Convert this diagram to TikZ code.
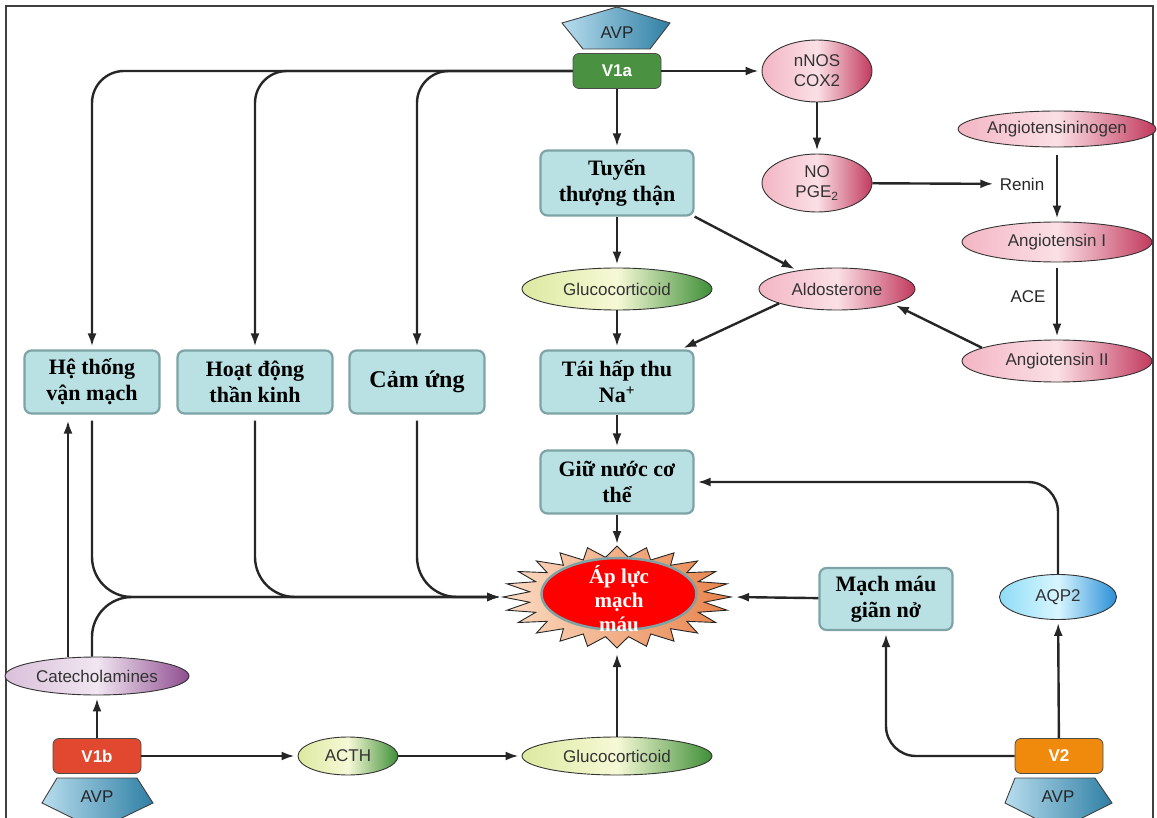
\documentclass[tikz,border=0pt]{standalone}
\usepackage{fontspec}
\setmainfont{Liberation Serif}
\setsansfont{Liberation Sans}
\usepackage{tikz}
\usetikzlibrary{shapes.geometric, arrows.meta, positioning, calc}

\definecolor{boxFill}{HTML}{B9E0E3}
\definecolor{boxLine}{HTML}{7DA3A6}
\definecolor{pinkL}{HTML}{FBE0E6}
\definecolor{pinkM}{HTML}{F3B5C4}
\definecolor{pinkD}{HTML}{C23A5E}
\definecolor{limeL}{HTML}{F6F9D6}
\definecolor{limeM}{HTML}{DCE9A0}
\definecolor{limeD}{HTML}{3F8F38}
\definecolor{lilacL}{HTML}{F1E6F1}
\definecolor{lilacM}{HTML}{D9C0DA}
\definecolor{lilacD}{HTML}{8E4E90}
\definecolor{skyL}{HTML}{D8F6FF}
\definecolor{skyM}{HTML}{8FDDF6}
\definecolor{skyD}{HTML}{2A8FD8}
\definecolor{avpL}{HTML}{B8DDEE}
\definecolor{avpD}{HTML}{2F7FA4}
\definecolor{vGreen}{HTML}{4A9242}
\definecolor{vRed}{HTML}{E2472F}
\definecolor{vOrange}{HTML}{EF8A0C}
\definecolor{burstL}{HTML}{FBDCC4}
\definecolor{burstD}{HTML}{E8824A}

\tikzset{
  boxT/.style={rectangle, rounded corners=7pt, draw=boxLine, line width=2.2pt,
               fill=boxFill, align=center, inner sep=2pt, minimum height=63pt,
               font=\bfseries\fontsize{22}{26}\selectfont},
  ellT/.style={ellipse, draw=black!80, line width=0.9pt, inner sep=0pt,
               align=center, text=black!80, font=\sffamily\fontsize{17}{20}\selectfont},
  pinkE/.style={ellT, left color=pinkM, right color=pinkD, middle color=pinkL},
  limeE/.style={ellT, left color=limeM, right color=limeD, middle color=limeL},
  lilacE/.style={ellT, left color=lilacM, right color=lilacD, middle color=lilacL},
  skyE/.style={ellT, left color=skyM, right color=skyD, middle color=skyL},
  recT/.style={rectangle, rounded corners=6pt, draw=black!70, line width=0.8pt,
               minimum width=88pt, minimum height=35pt, text=white,
               font=\sffamily\bfseries\fontsize{17}{20}\selectfont},
  avpS/.style={draw=black!75, line width=0.9pt, left color=avpL, right color=avpD},
  burstS/.style={draw=black!85, line width=0.9pt, left color=burstL, right color=burstD},
  labT/.style={text=black!85, font=\sffamily\fontsize{17}{20}\selectfont},
  arr/.style={-{Latex[length=13pt,width=9pt]}, line width=2.4pt, draw=black!85,
              shorten >=3pt},
}

\begin{document}
\begin{tikzpicture}[x=1pt, y=-1pt]
    \useasboundingbox (0,0) rectangle (1157,818);
    %% frame
    \draw[black!75, line width=1.6pt] (6,818) -- (6,6) -- (1153,6) -- (1153,818);
    %% AVP shapes
    \shadedraw[avpS] (617,7) -- (670,23) -- (650,49) -- (583,49) -- (562,23) -- cycle;
    \begin{scope}
      \clip (0,0) rectangle (1157,818);
      \shadedraw[avpS] (57,778) -- (137,778) -- (153,803) -- (97,830) -- (42,803) -- cycle;
      \shadedraw[avpS] (1015,778) -- (1095,778) -- (1112,803) -- (1058,830) -- (1005,803) -- cycle;
    \end{scope}
    \node[labT] (avpT) at (617,33) {AVP};
    \node[labT] (avpL) at (97,797) {AVP};
    \node[labT] (avpR) at (1058,797) {AVP};
    %% starburst
    \shadedraw[burstS] (731,597) \foreach \i in {1,...,47}{
        -- ({617+(101+13*cos(\i*180))*cos(\i*7.5)}, {597+(45.5+5.5*cos(\i*180))*sin(\i*7.5)})
      } -- cycle;
    \coordinate (starN) at (617,547);
    \coordinate (starS) at (617,651);
    \coordinate (starW) at (503,597);
    \coordinate (starE) at (733,597);
    \node[ellipse, draw=boxLine, line width=2.5pt, fill=red,
          minimum width=155pt, minimum height=72pt] (apluc) at (619,594) {};
    \node[align=center, text=white, font=\bfseries\fontsize{21}{24}\selectfont]
          (aplucT) at (619,599) {Áp lực\\mạch\\máu};
    %% receptors
    \node[recT, fill=vGreen] (v1a) at (617,71) {V1a};
    \node[recT, fill=vRed] (v1b) at (97,756) {V1b};
    \node[recT, fill=vOrange] (v2) at (1059,756) {V2};
    %% right column
    \node[pinkE, minimum width=110pt, minimum height=62pt] (nnos) at (817,71) {nNOS\\COX2};
    \node[pinkE, minimum width=110pt, minimum height=58pt] (nope) at (817,183) {NO\\PGE\textsubscript{2}};
    \node[labT] (renin) at (1022,184) {Renin};
    \node[pinkE, minimum width=190pt, minimum height=36pt] (angen) at (1057,129) {Angiotensininogen};
    \node[pinkE, minimum width=190pt, minimum height=40pt] (ang1) at (1057,242) {Angiotensin I};
    \node[labT] (ace) at (1028,297) {ACE};
    \node[pinkE, minimum width=190pt, minimum height=42pt] (ang2) at (1057,361) {Angiotensin II};
    \node[pinkE, minimum width=156pt, minimum height=42pt] (aldo) at (837,289) {Aldosterone};
    %% middle column
    \node[boxT, minimum width=153pt, minimum height=65pt] (tuyen) at (617,183) {Tuyến\\thượng thận};
    \node[limeE, minimum width=190pt, minimum height=42pt] (gluco) at (617,289) {Glucocorticoid};
    \node[boxT, minimum width=153pt] (taihap) at (617,382) {Tái hấp thu\\Na\textsuperscript{+}};
    \node[boxT, minimum width=153pt] (giunuoc) at (617,482) {Giữ nước cơ\\thể};
    %% left boxes
    \node[boxT, minimum width=135pt] (hethong) at (92,382) {Hệ thống\\vận mạch};
    \node[boxT, minimum width=155pt] (hoatdong) at (255,382) {Hoạt động\\thần kinh};
    \node[boxT, minimum width=135pt, font=\bfseries\fontsize{24}{28}\selectfont] (camung) at (417,382) {Cảm ứng};
    %% lower part
    \node[boxT, minimum width=133pt, minimum height=62pt] (machmau) at (886,599) {Mạch máu\\giãn nở};
    \node[skyE, minimum width=117pt, minimum height=45pt] (aqp2) at (1058,597) {AQP2};
    \node[lilacE, minimum width=184pt, minimum height=38pt] (catech) at (97,676) {Catecholamines};
    \node[limeE, minimum width=100pt, minimum height=38pt] (acth) at (348,756) {ACTH};
    \node[limeE, minimum width=190pt, minimum height=38pt] (glucoB) at (617,756) {Glucocorticoid};
    %% V1a pathways
    \draw[arr] (v1a) -- (nnos);
    \draw[arr] (v1a) -- (tuyen);
    \foreach \b in {hethong, hoatdong, camung}
      \draw[arr, rounded corners=32pt] (v1a.west) -- (\b.north |- v1a.west) -- (\b.north);
    \draw[arr] (nnos) -- (nope);
    \draw[arr] (nope) -- (renin);
    \draw[arr, shorten <=8pt] (angen) -- (ang1);
    \draw[arr, shorten <=6pt] (ang1) -- (ang2);
    \draw[arr] (ang2.170) -- (aldo.-15);
    \draw[arr] (tuyen) -- (gluco);
    \draw[arr] (tuyen.south east) -- (aldo.155);
    \draw[arr] (gluco) -- (taihap);
    \draw[arr] (aldo.194) -- ([xshift=-14pt]taihap.north east);
    \draw[arr] (taihap) -- (giunuoc);
    \draw[arr] (giunuoc) -- (starN);
    %% into blood pressure
    \foreach \b in {hethong, hoatdong, camung}
      \draw[arr, rounded corners=40pt, shorten <=6pt] (\b.south) -- (\b.south |- starW) -- (starW);
    \draw[arr, rounded corners=40pt] ([xshift=-5pt]catech.north) -- ([xshift=-5pt]catech.north |- starW) -- (starW);
    \draw[arr, shorten >=6pt] ([xshift=-29pt]catech.north) -- ([xshift=-29pt]catech.north |- hethong.south);
    \draw[arr] (machmau) -- (starE);
    \draw[arr] (glucoB) -- (starS);
    %% V1b and V2 pathways
    \draw[arr] (v1b) -- (catech);
    \draw[arr] (v1b) -- (acth);
    \draw[arr] (acth) -- (glucoB);
    \draw[arr] (v2) -- (aqp2);
    \draw[arr, rounded corners=30pt] (v2.west) -- (machmau.south |- v2.west) -- (machmau.south);
    \draw[arr, rounded corners=30pt] (aqp2.north) -- (aqp2.north |- giunuoc.east) -- (giunuoc.east);
\end{tikzpicture}
\end{document}
